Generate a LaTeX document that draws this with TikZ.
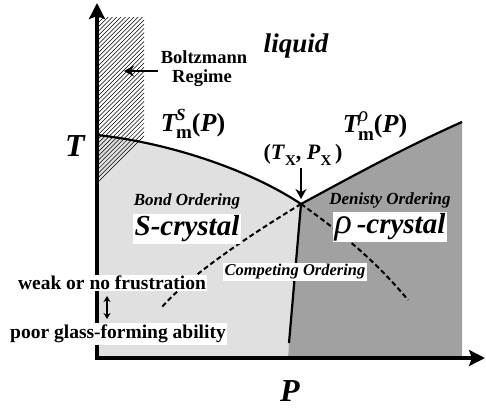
\documentclass[tikz,border=0pt]{standalone}
\usepackage{fontspec}
\setmainfont{Liberation Serif}
\usetikzlibrary{arrows.meta}
\definecolor{lightg}{gray}{0.88}
\definecolor{darkg}{gray}{0.63}
\newcommand{\fsz}[1]{\fontsize{#1}{#1}\selectfont}
\newcommand{\rhoit}{{\fontseries{m}\itshape ρ}}
\newcommand{\TmLabel}[1]{\textbf{\textit{T}}\kern-1.5pt\rlap{\raisebox{0.42em}{#1}}\raisebox{-0.3em}{\fsz{19}\bfseries m}\textbf{(\textit{P})}}
\tikzset{
  curve/.style={line width=2.2pt},
  dashcurve/.style={line width=2pt, dash pattern=on 5pt off 3pt},
  axis/.style={line width=3.2pt, -{Stealth[length=16pt,width=16pt,inset=3pt]}},
  boxlbl/.style={fill=white, inner sep=1.5pt},
  plain/.style={inner sep=0pt},
  pointer/.style={line width=2pt, -{Stealth[length=10pt,width=11pt]}},
}
\begin{document}
\begin{tikzpicture}[x=1pt,y=-1pt]
\useasboundingbox (0,0) rectangle (486,409);
% key points
\coordinate (O) at (97,358);
\coordinate (Ttip) at (97,3);
\coordinate (Ptip) at (485,358);
\coordinate (S0) at (97,135);
\coordinate (X) at (301,204);
\coordinate (R1) at (462,122);
\coordinate (R2) at (462,358);
\coordinate (V1) at (289,343);
\coordinate (V2) at (288,358);
\coordinate (DL) at (162,307);
\coordinate (DR) at (408,300);
\coordinate (bz) at (124,71);
\coordinate (da) at (107,296);
\coordinate (db) at (107,319);
% regions
\fill[lightg] (O) -- (S0) .. controls (170,143) and (250,170) .. (X) -- (V1) -- (V2) -- cycle;
\fill[darkg] (X) .. controls (360,172) and (410,145) .. (R1) -- (R2) -- (V2) -- (V1) -- cycle;
% hatched Boltzmann regime
\begin{scope}
  \clip (97,18) rectangle (144,183);
  \foreach \k in {0,...,62} {
    \draw[line width=0.5pt] (90,{190-\k*4.3}) -- ++(60,-60);
  }
\end{scope}
% lines
\draw[curve] (S0) .. controls (170,143) and (250,170) .. (X);
\draw[curve] (X) .. controls (360,172) and (410,145) .. (R1);
\draw[curve] (X) -- (V1);
\draw[dashcurve] (X) .. controls (250,235) and (190,275) .. (DL);
\draw[dashcurve] (X) .. controls (340,232) and (375,260) .. (DR);
% axes
\draw[axis] (O) -- (Ttip);
\draw[axis] ([xshift=-1.6pt]O) -- (Ptip);
% labels
\node[plain, font=\fsz{27}\bfseries\itshape] (liq) at (296,46) {liquid};
\node[plain, font=\fsz{18.5}\bfseries, anchor=base] (boltz) at (204,64) {Boltzmann};
\node[plain, font=\fsz{18.5}\bfseries, anchor=base] (regime) at (202,82) {Regime};
\draw[pointer] (boltz.west |- bz) ++(-3,0) -- (bz);
\node[plain, font=\fsz{32}\bfseries\itshape] (Tlab) at (75,146) {T};
\node[plain, font=\fsz{32}\bfseries\itshape] (Plab) at (290,391) {P};
\node[plain, font=\fsz{26}] (tms) at (193,124) {\TmLabel{\fsz{17}\textbf{\textit{S}}}};
\node[plain, font=\fsz{26}] (tmr) at (375,126) {\TmLabel{\fsz{21}\rhoit}};
\node[plain, font=\fsz{22}\bfseries] (txpx) at (303,155) {(\textit{T}\raisebox{-0.3em}{\fsz{15}X}, \textit{P}\raisebox{-0.3em}{\fsz{15}X}\,)};
\draw[pointer, line width=1.6pt, shorten >=5pt] (txpx.south) ++(-2,2) -- (X);
\node[plain, font=\fsz{17}\bfseries\itshape] (bond) at (187,201) {Bond Ordering};
\node[boxlbl, font=\fsz{29}\bfseries\itshape] (scr) at (187,229) {S-crystal};
\node[plain, font=\fsz{17}\bfseries\itshape] (dens) at (390,200) {Denisty Ordering};
\node[boxlbl, font=\fsz{29}\bfseries\itshape] (rcr) at (390,227) {{\fsz{36}\rhoit}\,-crystal};
\node[boxlbl, font=\fsz{16.5}\bfseries\itshape] (comp) at (295,272) {Competing Ordering};
\node[boxlbl, font=\fsz{19.5}\bfseries] (weak) at (112,283) {weak or no frustration};
\node[boxlbl, font=\fsz{19.5}\bfseries] (poor) at (118,334) {poor glass-forming ability};
\draw[line width=1.6pt, {Stealth[length=6pt,width=7pt]}-{Stealth[length=6pt,width=7pt]}] (da) -- (db);
\end{tikzpicture}
\end{document}
